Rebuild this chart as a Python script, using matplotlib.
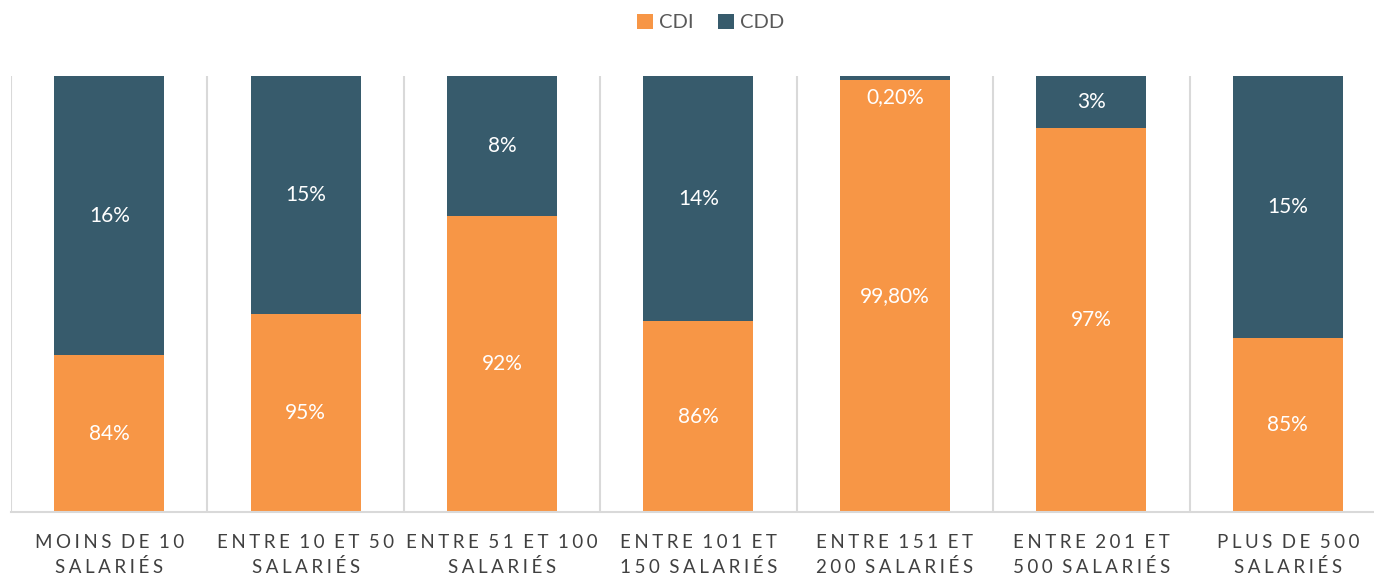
import numpy as np
import matplotlib.pyplot as plt

# categories and stacked shares (share of axis height, as drawn)
categories = ['MOINS DE 10\nSALARIÉS', 'ENTRE 10 ET 50\nSALARIÉS', 'ENTRE 51 ET 100\nSALARIÉS',
              'ENTRE 101 ET\n150 SALARIÉS', 'ENTRE 151 ET\n200 SALARIÉS', 'ENTRE 201 ET\n500 SALARIÉS',
              'PLUS DE 500\nSALARIÉS']
cdi = [35.9, 45.3, 67.9, 43.8, 99.1, 88.0, 39.9]
cdd = [64.1, 54.7, 32.1, 56.2, 0.9, 12.0, 60.1]
cdi_labels = ['84%', '95%', '92%', '86%', '99,80%', '97%', '85%']
cdd_labels = ['16%', '15%', '8%', '14%', '0,20%', '3%', '15%']

orange = '#F79646'
teal = '#375B6C'
grid = '#D9D9D9'

plt.rcParams['font.family'] = ['Lato', 'DejaVu Sans']


def spaced(s):
    # mimic the wide letter spacing of the axis labels
    sep = '\u2009\u200a'
    lines = []
    for line in s.split('\n'):
        lines.append(sep.join(ch if ch != ' ' else '\u2009' for ch in line))
    return '\n'.join(lines)


fig = plt.figure(figsize=(13.74, 5.75), dpi=100)
ax = fig.add_axes([11 / 1374, 63 / 575, 1375 / 1374, 436 / 575])

x = np.arange(len(categories))
w = 0.56
ax.bar(x, cdi, w, color=orange, label='CDI')
ax.bar(x, cdd, w, bottom=cdi, color=teal, label='CDD')

for i in range(len(x)):
    ax.text(x[i], cdi[i] / 2, cdi_labels[i], ha='center', va='center', color='white', fontsize=15)
    if cdd[i] < 3:
        ax.text(x[i], cdi[i] - 4.0, cdd_labels[i], ha='center', va='center', color='white', fontsize=15)
    else:
        ax.text(x[i], cdi[i] + cdd[i] / 2, cdd_labels[i], ha='center', va='center', color='white', fontsize=15)

# category separators
for b in np.arange(-0.5, len(x) + 0.5, 1):
    ax.axvline(b, color=grid, lw=1.5, zorder=0)

ax.set_xlim(-0.5, len(x) - 0.5)
ax.set_ylim(0, 100)
ax.set_yticks([])
ax.set_xticks(x)
ax.set_xticklabels([spaced(c) for c in categories], fontsize=13.5, color='#404040', linespacing=1.45)
ax.tick_params(axis='x', length=0, pad=16)
for s in ['top', 'left', 'right']:
    ax.spines[s].set_visible(False)
ax.spines['bottom'].set_color(grid)
ax.spines['bottom'].set_linewidth(1.5)

fig.legend(loc='upper center', bbox_to_anchor=(0.517, 1.008), ncol=2, frameon=False, fontsize=14.5,
           handlelength=0.8, handleheight=0.8, handletextpad=0.3, columnspacing=1.2,
           labelcolor='#595959')

fig.savefig('out.png', dpi=100)
